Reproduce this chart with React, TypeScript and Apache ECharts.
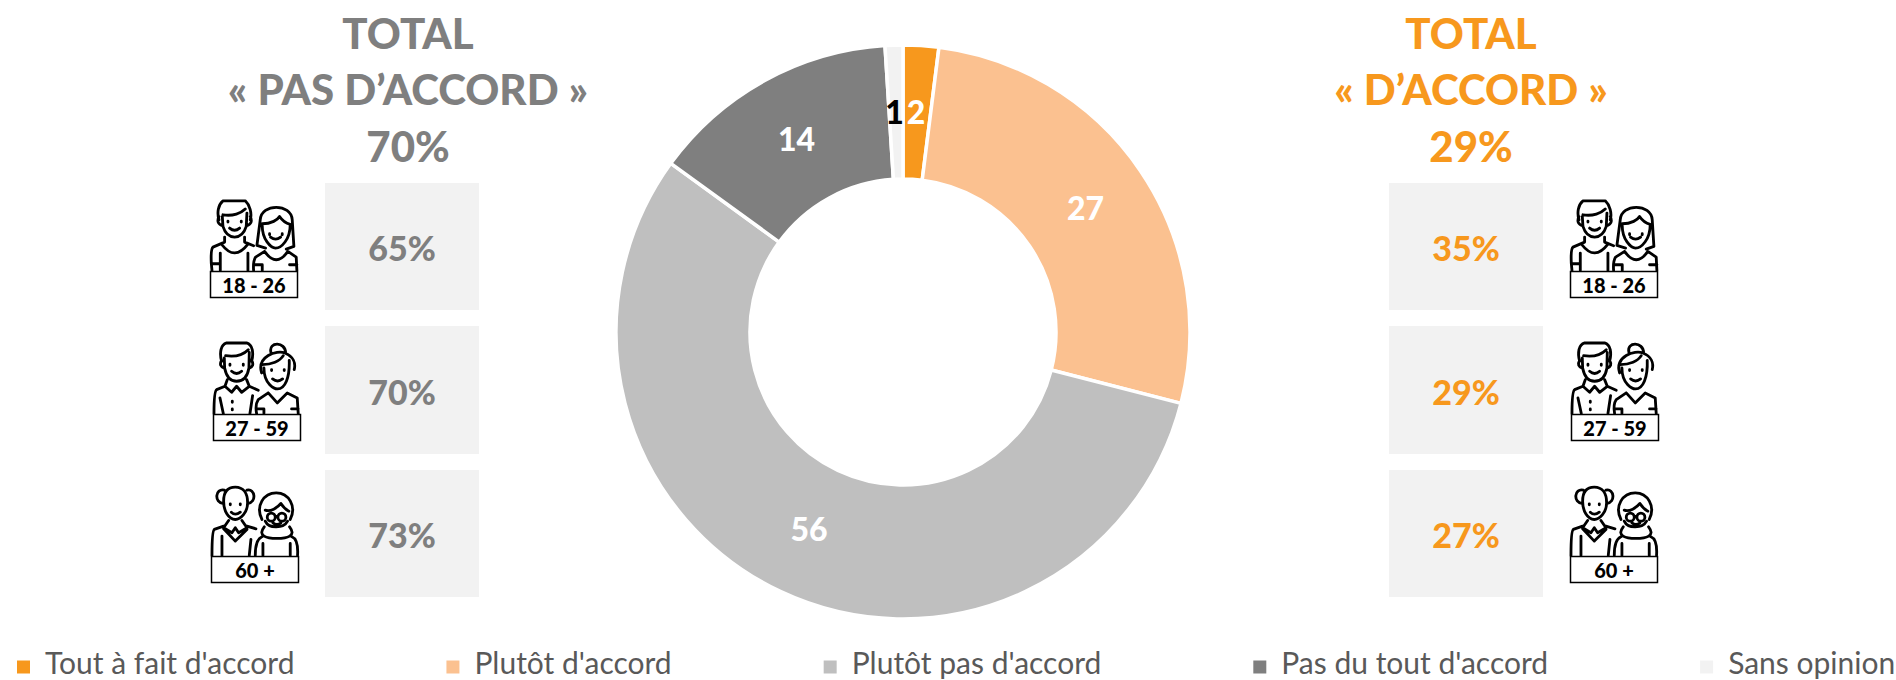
import React, { useEffect, useRef } from "react";
import * as echarts from "echarts";

const categories = ["Tout à fait d'accord", "Plutôt d'accord", "Plutôt pas d'accord", "Pas du tout d'accord", "Sans opinion"];
const values = [2, 27, 56, 14, 1];
const colors = ["#F7981D", "#FBC190", "#BFBFBF", "#7F7F7F", "#F2F2F2"];
const ageLabels = ["18 - 26", "27 - 59", "60 +"];
const disagreeShares = ["65%", "70%", "73%"];
const agreeShares = ["35%", "29%", "27%"];
const disagreeTitle = ["TOTAL", "« PAS D’ACCORD »", "70%"];
const agreeTitle = ["TOTAL", "« D’ACCORD »", "29%"];

const FONT = "Lato";
const GREY = "#7F7F7F";
const ORANGE = "#F7981D";

const youngPath =
  "M118,660 C112,640 115,615 130,603 L197,603 C210,615 218,640 212,660 " +
  "M118,650 Q108,672 130,678 M212,650 Q222,672 200,678 " +
  "M128,650 L130,680 Q140,712 165,712 Q190,712 200,680 L202,640 " +
  "M130,645 C160,650 185,640 197,628 M145,664 L145,667 M185,664 L185,667 M150,685 Q165,698 180,685 " +
  "M135,712 L135,727 L100,742 Q93,748 95,790 L97,812 M95,792 L122,792 M122,760 L122,812 " +
  "M127,735 Q165,785 205,733 M195,712 L195,727 L222,738 M205,760 L205,812 " +
  "M232,737 L242,660 C245,610 335,610 338,660 L343,740 L320,748 M232,737 L258,745 " +
  "M248,672 C275,672 295,660 300,650 C310,665 325,672 332,674 M248,672 C246,720 275,745 288,745 C305,745 332,720 332,674 " +
  "M270,702 L270,705 M308,702 L308,705 M273,712 Q288,724 303,712 " +
  "M255,755 Q290,805 325,755 L350,772 L352,812 M255,755 L228,772 Q220,785 222,812 M222,795 L248,795 L248,812 M330,795 L352,795";

const adultPath =
  "M95,125 C88,100 92,75 110,70 L170,70 C188,75 192,100 185,125 " +
  "M95,122 Q85,140 104,146 M185,122 Q195,140 177,146 " +
  "M103,115 L104,145 Q112,185 140,185 Q170,185 177,145 L178,98 " +
  "M107,108 C135,112 160,105 175,90 M120,134 L120,137 M160,134 L160,137 M125,155 Q140,168 155,155 " +
  "M112,180 L105,200 L125,218 L140,200 L155,218 L178,200 L170,180 " +
  "M105,200 L80,210 Q72,215 72,282 M178,200 L205,212 M90,235 L100,282 M188,228 L180,282 M127,245 L127,248 M127,268 L127,271 " +
  "M243,98 C235,65 287,65 287,100 " +
  "M215,160 C200,110 260,90 285,100 C310,110 318,130 313,150 " +
  "M217,135 C245,135 270,125 280,108 M222,145 C222,195 255,208 263,208 C285,208 300,175 298,122 " +
  "M245,150 L245,153 M283,150 L283,153 M248,178 Q263,190 278,178 " +
  "M235,220 L262,250 L292,220 L322,235 L325,282 M235,220 L205,240 Q195,255 200,282 M200,268 L222,268 L222,282 M305,268 L325,268";

const seniorPath =
  "M100,545 C100,515 115,503 135,503 C158,503 172,520 172,550 C172,580 150,600 135,600 C115,600 100,575 100,545 " +
  "M102,512 C75,505 70,550 100,552 M170,512 C195,505 200,550 172,552 " +
  "M120,553 L120,556 M150,553 L150,556 M123,578 Q135,590 150,578 " +
  "M115,603 L100,625 L125,640 L135,625 L145,640 L170,625 L155,603 " +
  "M100,628 L135,665 L170,630 M100,620 L72,630 Q65,635 65,708 M170,620 L197,628 M95,650 L95,708 M182,660 L177,708 " +
  "M215,600 C195,560 220,520 258,520 C295,520 320,560 300,600 " +
  "M225,572 C240,578 262,565 272,552 C280,565 290,572 296,575 " +
  "M231,593 a12,12 0 1,0 24,0 a12,12 0 1,0 -24,0 M263,593 a12,12 0 1,0 24,0 a12,12 0 1,0 -24,0 M255,591 L263,591 " +
  "M248,610 Q260,620 272,610 M225,605 C235,628 280,628 292,605 " +
  "M222,622 C200,650 230,657 260,657 C290,657 320,650 298,622 " +
  "M215,652 Q195,660 195,708 M305,652 Q325,660 322,708 M218,672 L218,708 M300,672 L300,708";

const iconShapes = ["coupleYoung", "coupleAdult", "coupleSenior"];
const iconPaths = [youngPath, adultPath, seniorPath];
iconShapes.forEach((name, i) => {
  echarts.graphic.registerShape(name, echarts.graphic.extendPath(iconPaths[i], {}));
});

// Top-left of each label box inside its own icon drawing
const iconAnchors = [[91, 813], [69, 283], [62, 709]];
const rowTops = [183, 326, 470];
const rowBottoms = [310, 454, 597];
const boxTops = [271, 414, 556];
// Small nudges of the pie's value labels, in slice order
const labelOffsets = [[-1, 2], [-2, 1], [1, -5], [1, 2], [-1.5, 2]];

function buildGraphic() {
  const out: any[] = [];
  const text = (x: number, y: number, t: string, size: number, fill: string, weight = "900") => ({
    type: "text",
    x,
    y,
    style: { text: t, fill, font: `${weight} ${size}px ${FONT}`, align: "center", verticalAlign: "middle" },
  });
  const titleYs = [33, 89, 146];
  disagreeTitle.forEach((t, i) => out.push(text(408, titleYs[i], t, 42, GREY)));
  agreeTitle.forEach((t, i) => out.push(text(1471, titleYs[i], t, 42, ORANGE)));

  const sides = [
    { rectX: 325, shares: disagreeShares, color: GREY, boxX: [210, 213, 211] },
    { rectX: 1389, shares: agreeShares, color: ORANGE, boxX: [1570, 1571, 1570] },
  ];
  sides.forEach((side) => {
    rowTops.forEach((top, i) => {
      out.push({
        type: "rect",
        shape: { x: side.rectX, y: top, width: 154, height: rowBottoms[i] - top },
        style: { fill: "#F2F2F2" },
      });
      out.push(text(side.rectX + 77, (top + rowBottoms[i]) / 2 + 1, side.shares[i], 34, side.color));
      const bx = side.boxX[i];
      const by = boxTops[i];
      out.push({
        type: iconShapes[i],
        x: bx - iconAnchors[i][0] / 3,
        y: by - iconAnchors[i][1] / 3,
        scaleX: 1 / 3,
        scaleY: 1 / 3,
        style: { fill: "none", stroke: "#000", lineWidth: 8.5, lineCap: "round", lineJoin: "round" },
      });
      out.push({
        type: "rect",
        shape: { x: bx + 0.5, y: by + 0.5, width: 87, height: 26 },
        style: { fill: "#fff", stroke: "#000", lineWidth: 1.5 },
      });
      out.push(text(bx + 44, by + 14, ageLabels[i], 20, "#000"));
    });
  });
  return out;
}

export default function App() {
  const ref = useRef<HTMLDivElement>(null);
  useEffect(() => {
    if (!ref.current) return;
    const chart = echarts.init(ref.current, undefined, { renderer: "svg" });
    chart.setOption({
      animation: false,
      backgroundColor: "#fff",
      color: colors,
      legend: {
        left: 15,
        top: 647,
        itemGap: 150,
        itemWidth: 15,
        itemHeight: 15,
        icon: "rect",
        padding: 0,
        formatter: (name: string) => `{a|${name}}`,
        textStyle: {
          rich: {
            a: { fontFamily: FONT, fontSize: 30, lineHeight: 30, color: "#595959", padding: [0, 0, 10, 9] },
          },
        },
        data: categories,
      },
      series: [
        {
          type: "pie",
          center: [903, 332],
          radius: [153, 287],
          startAngle: 90,
          clockwise: true,
          avoidLabelOverlap: false,
          itemStyle: { borderColor: "#fff", borderWidth: 3.5 },
          label: {
            show: true,
            position: "inside",
            formatter: "{c}",
            fontFamily: FONT,
            fontWeight: 900,
            fontSize: 32,
            color: "#fff",
          },
          labelLine: { show: false },
          emphasis: { disabled: true },
          data: categories.map((name, i) => ({
            name,
            value: values[i],
            label: { offset: labelOffsets[i], ...(name === "Sans opinion" ? { color: "#000" } : {}) },
          })),
        },
      ],
      graphic: { elements: buildGraphic() },
    });
    return () => chart.dispose();
  }, []);
  return <div ref={ref} style={{ position: "fixed", left: 0, top: 0, width: 1896, height: 680 }} />;
}
